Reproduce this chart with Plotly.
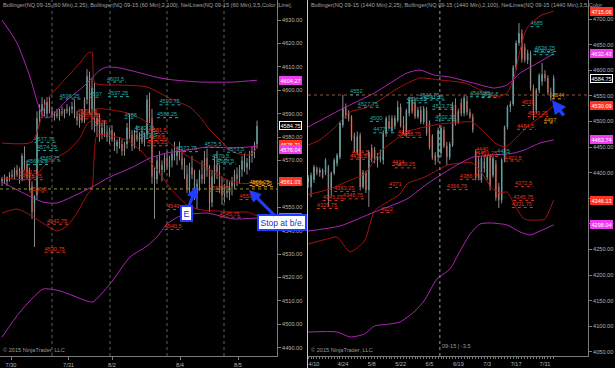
import plotly.graph_objects as go

W, H, MB = 615, 368, 12

# ---------------- LEFT PANEL (NQ 09-15, 60 Min) ----------------
l_open = [4561,4562,4561,4563,4564,4563,4566,4564,4562,4572,4568,4565,4559,4548,4555,4588,4591,4594,4590,4595,
          4591,4589,4590,4589,4591,4590,4592,4591,4592,4593,4589,4587,4589,4587,4596,4606,4592,4601,4585,4588,
          4581,4584,4582,4580,4583,4579,4576,4578,4577,4574,4577,4584,4581,4576,4581,4579,4580,4578,4581,4596,
          4588,4563,4562,4570,4566,4568,4571,4567,4570,4573,4572,4574,4571,4568,4564,4558,4567,4564,4556,4560,
          4564,4562,4571,4566,4552,4563,4568,4565,4559,4555,4557,4556,4559,4561,4564,4562,4566,4570,4567,4569,
          4572,4574,4577]
l_high = [4563,4564,4563,4565,4566,4567,4568,4567,4573,4576,4570,4567,4561,4552,4591,4594,4597,4596,4597,4597,
          4593,4591,4592,4592,4593,4592,4594,4593,4595,4596,4591,4590,4592,4597,4609,4608,4605,4603,4590,4590,
          4586,4587,4585,4584,4585,4582,4579,4580,4579,4578,4586,4590,4583,4583,4585,4582,4584,4582,4598,4599,
          4592,4567,4572,4574,4570,4573,4574,4572,4575,4578,4576,4578,4575,4571,4568,4569,4572,4566,4562,4566,
          4570,4574,4575,4568,4566,4572,4574,4568,4563,4560,4562,4561,4563,4566,4567,4568,4572,4573,4571,4574,
          4576,4578,4587]
l_low = [4559,4560,4559,4561,4562,4562,4563,4560,4561,4566,4562,4557,4545,4533,4553,4585,4588,4589,4588,4590,
         4588,4587,4588,4587,4589,4588,4590,4589,4590,4588,4585,4584,4586,4586,4594,4590,4583,4582,4580,4578,
         4579,4580,4578,4577,4578,4574,4573,4575,4572,4572,4575,4579,4574,4575,4578,4574,4577,4576,4579,4586,
         4560,4545,4560,4564,4561,4565,4566,4563,4567,4570,4568,4570,4566,4562,4556,4556,4562,4553,4549,4557,
         4560,4560,4563,4548,4550,4560,4562,4556,4551,4552,4554,4553,4555,4558,4559,4560,4563,4565,4564,4566,
         4569,4571,4575]
l_close = [4562,4561,4563,4564,4563,4566,4564,4562,4572,4568,4565,4559,4548,4555,4588,4591,4594,4590,4595,4591,
           4589,4590,4589,4591,4590,4592,4591,4592,4593,4589,4587,4589,4587,4596,4606,4592,4601,4585,4588,4581,
           4584,4582,4580,4583,4579,4576,4578,4577,4574,4577,4584,4581,4576,4581,4579,4580,4578,4581,4596,4588,
           4563,4562,4570,4566,4568,4571,4567,4570,4573,4572,4574,4571,4568,4564,4558,4567,4564,4556,4560,4564,
           4562,4571,4566,4552,4563,4568,4565,4559,4555,4557,4556,4559,4561,4564,4562,4566,4570,4567,4569,4572,
           4574,4577,4584.75]
l_tick_pos = [3.6, 26.6, 44, 71.2, 94.4]
l_tick_lab = ["7/30", "7/31", "8/2", "8/4", "8/5"]
l_sessions = [20, 43.2, 66, 88.8]

l_up25_x = [0,12,18,26,31.2,34.4,36,37.2,47.2,58,68.4,75.2,79.2,83.2,87.2,92.4,98,100.4,102]
l_up25_y = [4577.4,4577.9,4595.8,4605.6,4611.6,4615.9,4616.3,4603.1,4602.2,4601.4,4595.8,4592.8,4588.5,4583.0,
            4578.7,4573.6,4572.3,4573.2,4575.71]
l_mid25_x = [0,12,18,26,31,34,36,37,38,44,50,56,62,68,74,80,86,92,98,102]
l_mid25_y = [4562.5,4562.1,4568.9,4573.8,4579.3,4585.6,4587.3,4588.8,4592.0,4591.5,4590.3,4587.6,4582.5,4576.6,
             4572.0,4568.2,4564.0,4560.8,4560.1,4561.03]
l_lo25_x = [0,6,12,18,22,26,30,34,36,37,38,44,50,56,62,68,74,80,86,92,98,102]
l_lo25_y = [4547.5,4549.2,4546.2,4542.0,4539.8,4542.0,4547.5,4555.2,4558.2,4574.4,4580.9,4580.4,4578.7,4573.6,
            4565.9,4557.4,4550.9,4548.8,4548.4,4547.9,4547.9,4546.35]
l_up100_x = [0,6,11.2,15.2,17.2,19.2,26,32.4,39.2,42,47.2,63.2,68.4,79.2,92.4,102]
l_up100_y = [4630.0,4620.2,4605.6,4591.5,4588.5,4588.5,4595.8,4601.4,4608.6,4609.9,4609.5,4605.2,4604.4,4603.5,
             4603.5,4604.27]
l_mid100_x = [0,16.4,22,35.2,43.2,52.4,59.2,66,74,82,92.4,102]
l_mid100_y = [4560.8,4552.2,4551.8,4558.2,4562.9,4567.2,4571.0,4573.2,4574.4,4575.7,4575.3,4576.04]
l_lo100_x = [0,7.2,16.4,23.2,34,36.4,43.2,51.2,58,62,66,71.2,82,92.4,102]
l_lo100_y = [4494.5,4505.2,4515.0,4514.2,4509.9,4509.5,4517.2,4528.7,4533.4,4537.3,4542.8,4546.2,4547.5,
             4545.0,4545.4]

l_lab_bar = [42,42.4,23,13,14,15,10,63,62,35,49,53,55,70,81,84,86,90,
             30,31,37,59,58.5,58,7,8,11,18,17,66,65,87,95,83,
             99,100]
l_lab_val = [4603.5,4597.25,4596.25,4577.75,4574.25,4569.75,4568.25,4593.75,4588.25,4597,4588,4582.25,4579.5,
             4573.75,4575.5,4570.5,4568.5,4573.5,
             4589.75,4587.75,4585,4581.5,4578.5,4576.25,4563.5,4561.75,4556.5,4542.75,4530.75,4549,4540.5,
             4545.75,4553.25,4556.75,
             4559.25,4558.75]
l_lab_col = ["c"]*18 + ["r"]*16 + ["o"]*2

# ---------------- RIGHT PANEL (NQ 09-15, 1440 Min) ----------------
r_open = [4380,4372,4386,4408,4400,4405,4399,4411,4366,4399,4418,4430,4493,4528,4518,4509,4473,4440,4473,4372,
          4400,4366,4448,4444,4424,4432,4424,4477,4500,4506,4490,4502,4528,4492,4477,4516,4542,4536,4509,4522,
          4499,4522,4497,4470,4434,4430,4438,4483,4452,4430,4454,4532,4500,4536,4516,4540,4518,4509,4440,4424,
          4386,4422,4391,4430,4395,4418,4372,4346,4425,4489,4528,4534,4606,4653,4672,4645,4620,4633,4565,4522,
          4561,4578,4592,4585,4557,4548]
r_high = [4395,4400,4415,4412,4410,4408,4428,4415,4402,4428,4438,4500,4552,4535,4522,4512,4478,4480,4478,4405,
          4404,4444,4455,4450,4438,4445,4482,4510,4512,4512,4512,4540,4535,4510,4525,4548,4548,4545,4528,4530,
          4530,4528,4502,4475,4440,4488,4492,4490,4460,4460,4538,4545,4525,4545,4552,4550,4525,4515,4445,4430,
          4432,4430,4434,4436,4432,4425,4380,4428,4492,4532,4540,4610,4658,4692,4680,4652,4640,4638,4572,4565,
          4594,4614,4600,4590,4566,4590]
r_low = [4370,4352,4380,4395,4392,4388,4395,4333,4355,4395,4412,4426,4488,4505,4500,4462,4440,4435,4365,4368,
         4360,4333,4420,4418,4410,4420,4416,4470,4485,4478,4485,4498,4488,4475,4470,4510,4515,4505,4505,4495,
         4494,4472,4445,4425,4415,4420,4430,4448,4415,4425,4450,4492,4495,4510,4510,4512,4505,4478,4385,4385,
         4380,4400,4385,4365,4390,4345,4331,4340,4420,4484,4518,4530,4600,4648,4615,4615,4612,4560,4503,4515,
         4555,4570,4578,4552,4540,4544]
r_close = [4390,4395,4411,4400,4405,4391,4424,4346,4399,4424,4434,4497,4526,4509,4505,4467,4445,4470,4372,4400,
           4366,4440,4428,4424,4432,4426,4477,4506,4489,4483,4506,4528,4492,4485,4522,4542,4520,4509,4522,4499,
           4525,4477,4450,4430,4424,4483,4487,4452,4430,4456,4532,4497,4520,4516,4546,4518,4509,4483,4391,4391,
           4428,4408,4430,4372,4428,4352,4346,4425,4489,4528,4534,4606,4653,4672,4622,4620,4633,4565,4522,4561,
           4590,4592,4585,4557,4546,4584.75]
r_tick_pos = [2, 12, 22, 32, 42, 52, 62, 72, 82]
r_tick_lab = ["4/10", "4/24", "5/8", "5/22", "6/5", "6/19", "7/3", "7/17", "7/31"]

r_up25_x = [0,4,9,14.5,19.7,24.9,30,35.2,38.7,45.6,54.3,59.5,64.7,68.9,71.3,73.4,75.8,80.3,85]
r_up25_y = [4453.9,4463.7,4487.1,4518.4,4526.2,4541.8,4561.3,4577.0,4584.8,4580.9,4575.0,4561.3,4547.7,4555.5,
            4586.7,4639.5,4682.4,4705.9,4715.06]
r_mid25_x = [0,6.9,14.5,19.7,24.9,34.6,44.7,51.6,56.7,61.2,64.7,68.2,71.3,75.8,80.3,85]
r_mid25_y = [4357,4367,4385,4398,4440,4480,4494,4498,4498.8,4477.3,4457.8,4450,4463.7,4489.1,4508.6,4530.09]
r_lo25_x = [0,6.5,10,14.5,19.5,22.9,26.3,31.8,34.2,40.4,44.9,48.4,56.7,60.1,63.5,66.4,68.9,71.3,74.8,80.3,82,85]
r_lo25_y = [4260.5,4270.3,4274.2,4245.1,4266.4,4325.0,4338.7,4358.2,4377.7,4391.4,4405.1,4414.8,4418.8,4399.2,
            4370.0,4360.2,4362.1,4338.7,4309.4,4307.4,4309.4,4346.13]
r_up100_x = [0,11,22.9,34.2,38.7,43.5,49,57.2,64.4,68.9,73.4,78.3,85]
r_up100_y = [4489.1,4522.3,4555.5,4594.5,4600.4,4590.6,4586.7,4575.0,4565.2,4571.1,4594.5,4610.2,4632.43]
r_mid100_x = [0,11,22.9,34.2,41.1,51.5,57.2,64.4,71.3,74.8,80.3,85]
r_mid100_y = [4285.9,4295.7,4323.0,4348.4,4377.7,4414.8,4430.5,4434.4,4438.3,4444.1,4457.8,4463.74]
r_lo100_x = [0,10,14.5,19.5,22.9,28.3,31.8,36.6,40.1,44.6,49.1,52.6,56.1,59.5,63,68.9,73.4,76.8,80.3,85]
r_lo100_y = [4088.7,4088.7,4078.9,4084.8,4100.4,4104.3,4108.2,4127.7,4149.2,4192.2,4211.7,4246.9,4280.1,
             4299.6,4301.6,4297.7,4284.0,4278.1,4285.9,4298.04]

r_lab_bar = [14.5,17.2,21.4,22.5,34,38.5,40,43,44,56,60,77,78.5,78,65.5,
             15,14.5,9,12,5,3,29,30,28,25,31,32,58,58.5,52.5,48,71.6,71,70.5,74,76,72.3,68,
             84.4,81.6]
r_lab_val = [4552,4527.75,4500,4477.75,4536.25,4544.75,4541.75,4523.75,4502.25,4548.25,4546.5,4685,4636.75,
             4630.25,4435,
             4434.5,4426.25,4363.25,4348.75,4345.25,4329.75,4414,4409.25,4371,4322,4473,4468.75,4440,4431.25,
             4386.75,4366.75,4372.5,4345.75,4331.75,4531,4509.25,4484.5,4422.5,
             4544,4497]
r_lab_col = ["c"]*15 + ["r"]*23 + ["o"]*2

# price markers on the axes: (value, kind, pixel shift)
l_markers = [(4604.27, "m", 0), (4584.75, "k", 0), (4575.71, "r", 3), (4576.04, "m", -3.5),
             (4561.03, "r", 0), (4545.4, "m", 0)]
r_markers = [(4715.06, "r", 0), (4632.43, "m", 0), (4584.75, "k", 0), (4530.09, "r", 0),
             (4463.74, "m", 0), (4346.13, "r", 0), (4298.04, "m", 0)]

# crosshair / cursor
l_hline = 4557.8
r_cursor_bar, r_cursor_price = 45.6, 4551.6

# ---------------- styling ----------------
UP, DN, WICK = "#3fcfc4", "#ff3b1f", "#8a8a8a"
BB25, BB100 = "#a81212", "#b025b5"
LABC = {"c": "#22a8a2", "r": "#e8301c", "o": "#eda010"}
MK_BG = {"m": "#f03cf0", "r": "#ff3322", "k": "#000000"}
FONT = "Liberation Sans, Arial, sans-serif"
AX = "#7a7a7a"
TXT = "#b4b4b4"

PH = H - MB
L_DOM = [0, 277 / W]
R_DOM = [308 / W, 588 / W]
L_YR = [4486.41, 4638.55]
R_YR = [4041.8, 4737.11]
L_XR = [-0.8, 110]
R_XR = [-0.07, 96.9]

fig = go.Figure()


def add_panel(xa, ya, o, h, l, c, bands, lab_bar, lab_val, lab_col, pxbar):
    idx = list(range(len(c)))
    wx, wy = [], []
    for i in idx:
        wx += [i, i, None]
        wy += [h[i], l[i], None]
    fig.add_trace(go.Scatter(x=wx, y=wy, mode="lines", line=dict(color=WICK, width=1),
                             xaxis=xa, yaxis=ya, hoverinfo="skip"))
    for bx, by, col in bands:
        fig.add_trace(go.Scatter(x=bx, y=by, mode="lines", line=dict(color=col, width=1, shape="spline",
                                                                       smoothing=0.6),
                                 xaxis=xa, yaxis=ya, hoverinfo="skip"))
    fig.add_trace(go.Candlestick(x=idx, open=o, high=h, low=l, close=c, xaxis=xa, yaxis=ya,
                                 increasing=dict(line=dict(color=UP, width=0), fillcolor=UP),
                                 decreasing=dict(line=dict(color=DN, width=0), fillcolor=DN),
                                 whiskerwidth=0, hoverinfo="skip"))
    for key in ("c", "r", "o"):
        tx, ty, tt, dx, dy = [], [], [], [], []
        for b, v, k in zip(lab_bar, lab_val, lab_col):
            if k != key:
                continue
            s = f"{v:g}"
            tx.append(b); ty.append(v); tt.append(s)
            dx += [b, b + len(s) * 3.1 / pxbar, None]
            dy += [v, v, None]
        fig.add_trace(go.Scatter(x=dx, y=dy, mode="lines", line=dict(color=LABC[key], width=1, dash="dot"),
                                 xaxis=xa, yaxis=ya, hoverinfo="skip"))
        fig.add_trace(go.Scatter(x=tx, y=ty, mode="text", text=tt, textposition="top right",
                                 textfont=dict(color=LABC[key], size=5.6, family=FONT),
                                 xaxis=xa, yaxis=ya, hoverinfo="skip"))


add_panel("x", "y", l_open, l_high, l_low, l_close,
          [(l_up25_x, l_up25_y, BB25), (l_mid25_x, l_mid25_y, BB25), (l_lo25_x, l_lo25_y, BB25),
           (l_up100_x, l_up100_y, BB100), (l_mid100_x, l_mid100_y, BB100), (l_lo100_x, l_lo100_y, BB100)],
          l_lab_bar, l_lab_val, l_lab_col, 2.5)
add_panel("x2", "y2", r_open, r_high, r_low, r_close,
          [(r_up25_x, r_up25_y, BB25), (r_mid25_x, r_mid25_y, BB25), (r_lo25_x, r_lo25_y, BB25),
           (r_up100_x, r_up100_y, BB100), (r_mid100_x, r_mid100_y, BB100), (r_lo100_x, r_lo100_y, BB100)],
          r_lab_bar, r_lab_val, r_lab_col, 2.8875)

axis_common = dict(showgrid=False, zeroline=False, showline=True, linecolor=AX, linewidth=1,
                   ticks="outside", tickcolor=AX, tickfont=dict(size=5.6, color=TXT, family=FONT),
                   fixedrange=True)

r_all_ticks = list(range(len(r_close)))
r_all_text = [r_tick_lab[r_tick_pos.index(j)] if j in r_tick_pos else "" for j in r_all_ticks]

fig.update_layout(
    width=W, height=H, margin=dict(l=0, r=0, t=0, b=MB),
    paper_bgcolor="black", plot_bgcolor="black", showlegend=False, hovermode=False,
    xaxis=dict(domain=L_DOM, range=L_XR, anchor="y", tickvals=l_tick_pos, ticktext=l_tick_lab,
               ticklen=3, rangeslider=dict(visible=False), **axis_common),
    yaxis=dict(domain=[0, 1], range=L_YR, anchor="x", side="right", dtick=10, tickformat=".2f",
               ticklen=3, **axis_common),
    xaxis2=dict(domain=R_DOM, range=R_XR, anchor="y2", tickvals=r_all_ticks, ticktext=r_all_text,
                ticklen=2, rangeslider=dict(visible=False), **axis_common),
    yaxis2=dict(domain=[0, 1], range=R_YR, anchor="x2", side="right", dtick=50, tickformat=".2f",
                ticklen=3, **axis_common),
)

shapes = []
for s in l_sessions:
    shapes.append(dict(type="line", xref="x", yref="paper", x0=s, x1=s, y0=0, y1=1,
                       line=dict(color="#5e5e5e", width=1, dash="dot")))
shapes.append(dict(type="line", xref="paper", yref="y", x0=0, x1=L_DOM[1], y0=l_hline, y1=l_hline,
                   line=dict(color="#8f9c2c", width=1, dash="dot")))
shapes.append(dict(type="line", xref="x2", yref="paper", x0=r_cursor_bar, x1=r_cursor_bar, y0=0, y1=1,
                   line=dict(color="#9a9a9a", width=1, dash="dot")))
shapes.append(dict(type="line", xref="paper", yref="y2", x0=R_DOM[0], x1=R_DOM[1],
                   y0=r_cursor_price, y1=r_cursor_price, line=dict(color="#8a5a40", width=1, dash="dot")))
shapes.append(dict(type="line", xref="paper", yref="paper", x0=307.5 / W, x1=307.5 / W, y0=-0.04, y1=1,
                   line=dict(color="#c8c8c8", width=1)))
fig.update_layout(shapes=shapes)

ann = []
ann.append(dict(xref="paper", yref="paper", x=1 / W, y=1, xanchor="left", yanchor="top", showarrow=False,
                text="Bollinger(NQ 09-15 (60 Min),2,25), Bollinger(NQ 09-15 (60 Min),2,100), "
                     "NetLines(NQ 09-15 (60 Min),3,5,Color [Line],",
                font=dict(size=5.6, color="#a0a0a0", family=FONT)))
ann.append(dict(xref="paper", yref="paper", x=309 / W, y=1, xanchor="left", yanchor="top", showarrow=False,
                text="Bollinger(NQ 09-15 (1440 Min),2,25), Bollinger(NQ 09-15 (1440 Min),2,100), "
                     "NetLines(NQ 09-15 (1440 Min),3,5,Color",
                font=dict(size=5.6, color="#a0a0a0", family=FONT)))
for xx in (1 / W, 309 / W):
    ann.append(dict(xref="paper", yref="paper", x=xx, y=0.004, xanchor="left", yanchor="bottom",
                    showarrow=False, text="© 2015 NinjaTrader, LLC",
                    font=dict(size=5.6, color="#9a9a9a", family=FONT)))
ann.append(dict(xref="x2", yref="paper", x=r_cursor_bar, y=10 / PH, xanchor="left", yanchor="middle",
                showarrow=False, text="09-15 | -3.5", font=dict(size=5.6, color="#9a9a9a", family=FONT)))

for markers, yref, xpos in ((l_markers, "y", 278.5 / W), (r_markers, "y2", 589.5 / W)):
    for v, k, sh in markers:
        ann.append(dict(xref="paper", yref=yref, x=xpos, y=v, xanchor="left", yanchor="middle",
                        showarrow=False, text=f"{v:.2f}", yshift=sh,
                        bgcolor=MK_BG[k], bordercolor="#ffffff" if k == "k" else MK_BG[k],
                        borderwidth=1, borderpad=0.5,
                        font=dict(size=5.6, color="white", family=FONT)))

BLUE = "#1f3dff"
ann.append(dict(xref="x", yref="y", x=78, y=4559, ax=-11, ay=27, text="E", showarrow=True,
                arrowhead=2, arrowsize=0.8, arrowwidth=3, arrowcolor=BLUE,
                bgcolor="white", bordercolor=BLUE, borderwidth=2, borderpad=1.5,
                font=dict(size=9, color="#1530c8", family=FONT)))
ann.append(dict(xref="x", yref="y", x=98.8, y=4557.4, ax=33, ay=33, text="Stop at b/e.", showarrow=True,
                arrowhead=2, arrowsize=0.8, arrowwidth=3, arrowcolor=BLUE,
                bgcolor="white", bordercolor=BLUE, borderwidth=2, borderpad=1.5,
                font=dict(size=8.5, color="#1530c8", family=FONT)))
ann.append(dict(xref="x2", yref="y2", x=84.4, y=4541.8, ax=13, ay=17, text="", showarrow=True,
                arrowhead=2, arrowsize=0.8, arrowwidth=3.5, arrowcolor=BLUE))
fig.update_layout(annotations=ann)

fig.write_html("out.html")
